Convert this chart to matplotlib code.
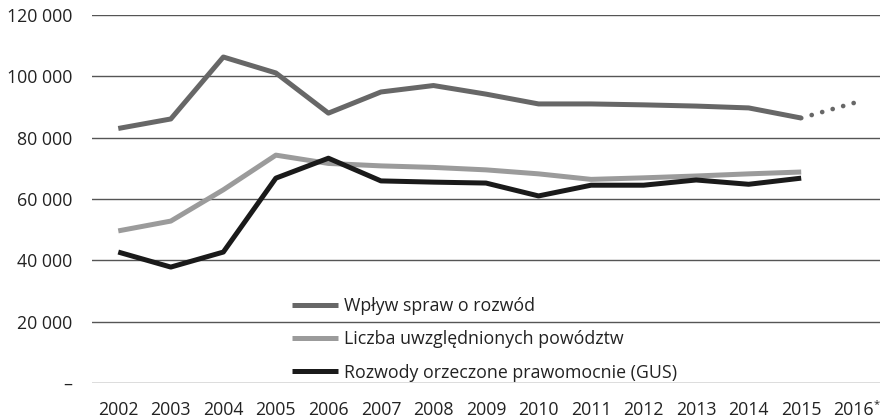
import matplotlib
matplotlib.use('Agg')
import matplotlib.pyplot as plt
import numpy as np

plt.rcParams['font.family'] = ['Open Sans', 'DejaVu Sans']

years = ['2002', '2003', '2004', '2005', '2006', '2007', '2008', '2009',
         '2010', '2011', '2012', '2013', '2014', '2015', '2016*']
wplyw = [83000, 86100, 106300, 101100, 88000, 94900, 97000, 94200,
         91000, 91000, 90700, 90300, 89700, 86400]
wplyw_2016 = 91300
liczba = [49600, 52800, 63000, 74300, 71600, 70800, 70300, 69500,
          68200, 66400, 66900, 67500, 68200, 68800]
rozwody = [42700, 37800, 42700, 66800, 73300, 65900, 65500, 65200,
           61000, 64500, 64500, 66200, 64800, 66800]
yticks = [0, 20000, 40000, 60000, 80000, 100000, 120000]

fig = plt.figure(figsize=(8.82, 4.19), dpi=100)
ax = fig.add_axes([92/882, 1 - 383/419, 788/882, 368/419])

x = np.arange(len(wplyw))
ax.plot(x, wplyw, color='#676767', lw=3.6, solid_capstyle='butt',
        label='Wpływ spraw o rozwód', zorder=3)
ax.plot(x, liczba, color='#9b9b9b', lw=3.6, solid_capstyle='butt',
        label='Liczba uwzględnionych powództw', zorder=3)
ax.plot(x, rozwody, color='#1a1a1a', lw=3.6, solid_capstyle='butt',
        label='Rozwody orzeczone prawomocnie (GUS)', zorder=4)
ax.plot([x[-1], x[-1] + 1], [wplyw[-1], wplyw_2016], color='#676767',
        lw=3.4, linestyle=(0, (0.01, 2.3)), dash_capstyle='round', zorder=3)

ax.set_xlim(-0.5, len(years) - 0.5)
ax.set_ylim(0, 120000)
ax.set_yticks(yticks)
ax.set_yticklabels(['–' if v == 0 else f'{v:,}'.replace(',', ' ') for v in yticks])
ax.set_xticks(np.arange(len(years)))
ax.set_xticklabels([y.rstrip('*') for y in years])
ax.tick_params(axis='both', length=0, labelsize=12.8, colors='#222222')
ax.tick_params(axis='y', pad=14)
ax.tick_params(axis='x', pad=13)
for s in ax.spines.values():
    s.set_visible(False)
ax.yaxis.grid(True, color='#555555', lw=1.0)
ax.set_axisbelow(True)

# superscript asterisk on the last (estimated) year
for i, y in enumerate(years):
    if y.endswith('*'):
        ax.annotate('*', xy=(i, 0), xycoords=ax.get_xaxis_transform(),
                    xytext=(14.3, -11.5), textcoords='offset points',
                    ha='left', va='top', fontsize=8, color='#222222')

leg = ax.legend(loc='upper left', bbox_to_anchor=(0.245, 0.252), frameon=False,
                fontsize=12.8, handlelength=2.6, handletextpad=0.3,
                labelspacing=0.85, borderaxespad=0)
for t in leg.get_texts():
    t.set_color('#222222')

plt.savefig('out.png', dpi=100)
plt.close()
